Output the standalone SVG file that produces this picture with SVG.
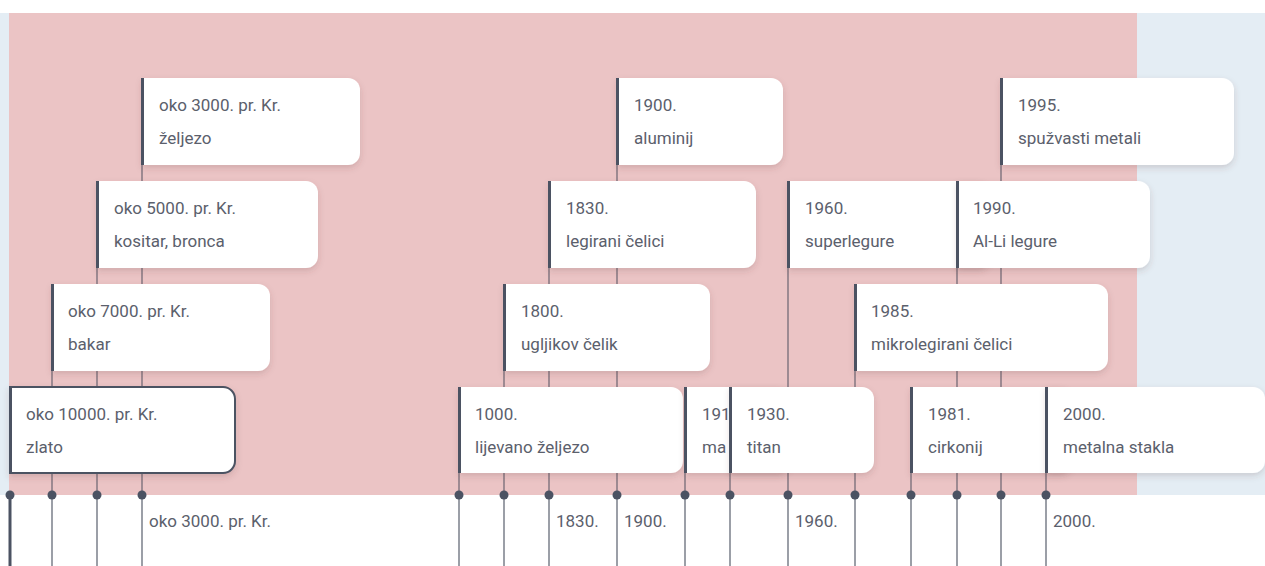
<svg xmlns="http://www.w3.org/2000/svg" width="1265" height="566" viewBox="0 0 1265 566">
<style>
.t{font-family:Roboto,"Liberation Sans",sans-serif;font-size:17px;fill:#5b606c}
.card{fill:#ffffff;filter:url(#sh)}
.bar{fill:#4b5262}
.up{stroke:#6a6470;stroke-width:1.2}
.down{stroke:#7a7f8a;stroke-width:1.5}
.dot{fill:#4b5262}
</style>
<defs>
<filter id="sh" x="-10%" y="-10%" width="130%" height="140%">
<feDropShadow dx="0" dy="3" stdDeviation="3" flood-color="#5a3a40" flood-opacity="0.18"/>
</filter>
</defs>
<rect x="0" y="0" width="1265" height="566" fill="#ffffff"/>
<rect x="0" y="13" width="1265" height="482" fill="#e4edf4"/>
<rect x="9" y="13" width="1128" height="482" fill="#ebc4c5"/>

<g id="connectors">
<line class="up" x1="52" y1="284" x2="52" y2="495"/>
<line class="up" x1="97" y1="181" x2="97" y2="495"/>
<line class="up" x1="142" y1="78" x2="142" y2="495"/>
<line class="up" x1="459" y1="387" x2="459" y2="495"/>
<line class="up" x1="504" y1="284" x2="504" y2="495"/>
<line class="up" x1="549" y1="181" x2="549" y2="495"/>
<line class="up" x1="617" y1="78" x2="617" y2="495"/>
<line class="up" x1="685" y1="387" x2="685" y2="495"/>
<line class="up" x1="730" y1="387" x2="730" y2="495"/>
<line class="up" x1="788" y1="181" x2="788" y2="495"/>
<line class="up" x1="855" y1="284" x2="855" y2="495"/>
<line class="up" x1="911" y1="387" x2="911" y2="495"/>
<line class="up" x1="957" y1="181" x2="957" y2="495"/>
<line class="up" x1="1001" y1="78" x2="1001" y2="495"/>
<line class="up" x1="1046" y1="387" x2="1046" y2="495"/>
<line x1="10" y1="495" x2="10" y2="566" stroke="#4b5262" stroke-width="3"/>
<line class="down" x1="52" y1="495" x2="52" y2="566"/>
<line class="down" x1="97" y1="495" x2="97" y2="566"/>
<line class="down" x1="142" y1="495" x2="142" y2="566"/>
<line class="down" x1="459" y1="495" x2="459" y2="566"/>
<line class="down" x1="504" y1="495" x2="504" y2="566"/>
<line class="down" x1="549" y1="495" x2="549" y2="566"/>
<line class="down" x1="617" y1="495" x2="617" y2="566"/>
<line class="down" x1="685" y1="495" x2="685" y2="566"/>
<line class="down" x1="730" y1="495" x2="730" y2="566"/>
<line class="down" x1="788" y1="495" x2="788" y2="566"/>
<line class="down" x1="855" y1="495" x2="855" y2="566"/>
<line class="down" x1="911" y1="495" x2="911" y2="566"/>
<line class="down" x1="957" y1="495" x2="957" y2="566"/>
<line class="down" x1="1001" y1="495" x2="1001" y2="566"/>
<line class="down" x1="1046" y1="495" x2="1046" y2="566"/>
<circle class="dot" cx="10" cy="495" r="4.5"/>
<circle class="dot" cx="52" cy="495" r="4.5"/>
<circle class="dot" cx="97" cy="495" r="4.5"/>
<circle class="dot" cx="142" cy="495" r="4.5"/>
<circle class="dot" cx="459" cy="495" r="4.5"/>
<circle class="dot" cx="504" cy="495" r="4.5"/>
<circle class="dot" cx="549" cy="495" r="4.5"/>
<circle class="dot" cx="617" cy="495" r="4.5"/>
<circle class="dot" cx="685" cy="495" r="4.5"/>
<circle class="dot" cx="730" cy="495" r="4.5"/>
<circle class="dot" cx="788" cy="495" r="4.5"/>
<circle class="dot" cx="855" cy="495" r="4.5"/>
<circle class="dot" cx="911" cy="495" r="4.5"/>
<circle class="dot" cx="957" cy="495" r="4.5"/>
<circle class="dot" cx="1001" cy="495" r="4.5"/>
<circle class="dot" cx="1046" cy="495" r="4.5"/>
<text class="t" x="149" y="527">oko 3000. pr. Kr.</text>
<text class="t" x="556" y="527">1830.</text>
<text class="t" x="624" y="527">1900.</text>
<text class="t" x="795" y="527">1960.</text>
<text class="t" x="1053" y="527">2000.</text>
</g>

<g id="zlato">
<path d="M10,387 H223 A12,12 0 0 1 235,399 V461 A12,12 0 0 1 223,473 H10 Z" fill="#fff" stroke="#4b5262" stroke-width="2" filter="url(#sh)"/>
<rect class="bar" x="9" y="387" width="3" height="86"/>
<text class="t" x="26" y="420">oko 10000. pr. Kr.</text>
<text class="t" x="26" y="453">zlato</text>
</g>
<g id="bakar">
<path class="card" d="M52,284 H258 A12,12 0 0 1 270,296 V359 A12,12 0 0 1 258,371 H52 Z"/>
<rect class="bar" x="51" y="284" width="3" height="87"/>
<text class="t" x="68" y="317">oko 7000. pr. Kr.</text>
<text class="t" x="68" y="350">bakar</text>
</g>
<g id="kositar">
<path class="card" d="M97,181 H306 A12,12 0 0 1 318,193 V256 A12,12 0 0 1 306,268 H97 Z"/>
<rect class="bar" x="96" y="181" width="3" height="87"/>
<text class="t" x="114" y="214">oko 5000. pr. Kr.</text>
<text class="t" x="114" y="247">kositar, bronca</text>
</g>
<g id="zeljezo">
<path class="card" d="M142,78 H348 A12,12 0 0 1 360,90 V153 A12,12 0 0 1 348,165 H142 Z"/>
<rect class="bar" x="141" y="78" width="3" height="87"/>
<text class="t" x="159" y="111">oko 3000. pr. Kr.</text>
<text class="t" x="159" y="144">željezo</text>
</g>
<g id="lijevano">
<path class="card" d="M459,387 H671 A12,12 0 0 1 683,399 V461 A12,12 0 0 1 671,473 H459 Z"/>
<rect class="bar" x="458" y="387" width="3" height="86"/>
<text class="t" x="475" y="420">1000.</text>
<text class="t" x="475" y="453">lijevano željezo</text>
</g>
<g id="ugljikov">
<path class="card" d="M504,284 H698 A12,12 0 0 1 710,296 V359 A12,12 0 0 1 698,371 H504 Z"/>
<rect class="bar" x="503" y="284" width="3" height="87"/>
<text class="t" x="521" y="317">1800.</text>
<text class="t" x="521" y="350">ugljikov čelik</text>
</g>
<g id="legirani">
<path class="card" d="M549,181 H744 A12,12 0 0 1 756,193 V256 A12,12 0 0 1 744,268 H549 Z"/>
<rect class="bar" x="548" y="181" width="3" height="87"/>
<text class="t" x="566" y="214">1830.</text>
<text class="t" x="566" y="247">legirani čelici</text>
</g>
<g id="aluminij">
<path class="card" d="M617,78 H771 A12,12 0 0 1 783,90 V153 A12,12 0 0 1 771,165 H617 Z"/>
<rect class="bar" x="616" y="78" width="3" height="87"/>
<text class="t" x="634" y="111">1900.</text>
<text class="t" x="634" y="144">aluminij</text>
</g>
<g id="e1910">
<path class="card" d="M685,387 H778 A12,12 0 0 1 790,399 V461 A12,12 0 0 1 778,473 H685 Z"/>
<rect class="bar" x="684" y="387" width="3" height="86"/>
<text class="t" x="702" y="420">191</text>
<text class="t" x="702" y="453">ma</text>
</g>
<g id="titan">
<path class="card" d="M730,387 H862 A12,12 0 0 1 874,399 V461 A12,12 0 0 1 862,473 H730 Z"/>
<rect class="bar" x="729" y="387" width="3" height="86"/>
<text class="t" x="747" y="420">1930.</text>
<text class="t" x="747" y="453">titan</text>
</g>
<g id="superlegure">
<path class="card" d="M788,181 H978 A12,12 0 0 1 990,193 V256 A12,12 0 0 1 978,268 H788 Z"/>
<rect class="bar" x="787" y="181" width="3" height="87"/>
<text class="t" x="805" y="214">1960.</text>
<text class="t" x="805" y="247">superlegure</text>
</g>
<g id="cirkonij">
<path class="card" d="M911,387 H1060 A12,12 0 0 1 1072,399 V461 A12,12 0 0 1 1060,473 H911 Z"/>
<rect class="bar" x="910" y="387" width="3" height="86"/>
<text class="t" x="928" y="420">1981.</text>
<text class="t" x="928" y="453">cirkonij</text>
</g>
<g id="mikrolegirani">
<path class="card" d="M855,284 H1096 A12,12 0 0 1 1108,296 V359 A12,12 0 0 1 1096,371 H855 Z"/>
<rect class="bar" x="854" y="284" width="3" height="87"/>
<text class="t" x="871" y="317">1985.</text>
<text class="t" x="871" y="350">mikrolegirani čelici</text>
</g>
<g id="alli">
<path class="card" d="M957,181 H1138 A12,12 0 0 1 1150,193 V256 A12,12 0 0 1 1138,268 H957 Z"/>
<rect class="bar" x="956" y="181" width="3" height="87"/>
<text class="t" x="973" y="214">1990.</text>
<text class="t" x="973" y="247">Al-Li legure</text>
</g>
<g id="spuzvasti">
<path class="card" d="M1001,78 H1222 A12,12 0 0 1 1234,90 V153 A12,12 0 0 1 1222,165 H1001 Z"/>
<rect class="bar" x="1000" y="78" width="3" height="87"/>
<text class="t" x="1018" y="111">1995.</text>
<text class="t" x="1018" y="144">spužvasti metali</text>
</g>
<g id="metalna">
<path class="card" d="M1046,387 H1253 A12,12 0 0 1 1265,399 V461 A12,12 0 0 1 1253,473 H1046 Z"/>
<rect class="bar" x="1045" y="387" width="3" height="86"/>
<text class="t" x="1063" y="420">2000.</text>
<text class="t" x="1063" y="453">metalna stakla</text>
</g>
</svg>
